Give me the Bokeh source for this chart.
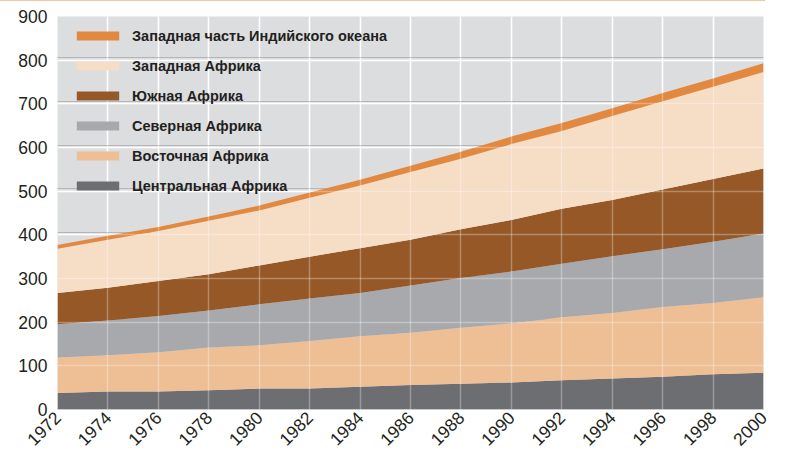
import math
from bokeh.plotting import figure
from bokeh.models import Legend, LegendItem, FixedTicker, Grid, ColumnDataSource
from bokeh.embed import file_html
from bokeh.resources import INLINE

years = [1972, 1974, 1976, 1978, 1980, 1982, 1984, 1986, 1988, 1990, 1992, 1994, 1996, 1998, 2000]
central = [38, 41, 41, 44, 48, 48, 52, 56, 59, 62, 67, 71, 75, 81, 84]
east = [81, 83, 90, 98, 99, 109, 116, 120, 128, 135, 144, 150, 160, 163, 173]
north = [76, 80, 83, 85, 94, 97, 99, 108, 114, 119, 123, 130, 132, 140, 146]
south = [72, 75, 80, 83, 89, 96, 102, 105, 112, 118, 126, 129, 137, 144, 149]
west = [101, 110, 115, 122, 126, 135, 144, 155, 161, 174, 178, 192, 202, 211, 221]
indian = [9, 9, 9, 10, 11, 12, 13, 14, 16, 17, 18, 18, 19, 19, 20]

series_keys = ["central", "east", "north", "south", "west", "indian"]
series_names = ["Центральная Африка", "Восточная Африка", "Северная Африка",
                "Южная Африка", "Западная Африка", "Западная часть Индийского океана"]
series_colors = ["#6D6E71", "#EEBE94", "#A7A9AC", "#955826", "#F6DDC6", "#E3883F"]

y_ticks = [0, 100, 200, 300, 400, 500, 600, 700, 800, 900]
x_ticks = years

src = ColumnDataSource(dict(year=years, central=central, east=east, north=north,
                            south=south, west=west, indian=indian))

p = figure(width=786, height=454, x_range=(1972, 2000), y_range=(0, 900),
           output_backend="svg", toolbar_location=None,
           min_border_left=57, min_border_right=23, min_border_top=16, min_border_bottom=45)
p.outline_line_color = None
p.background_fill_color = "#DCDDDF"
# transparent border so the page-top rule (host background) shows through
p.border_fill_alpha = 0
p.styles = {"background": "linear-gradient(#F3C9A0, #F3C9A0) no-repeat 0 0 / 765px 1px, #FFFFFF"}

renderers = p.varea_stack(series_keys, x="year", source=src, color=series_colors)

# grids
p.xgrid.ticker = FixedTicker(ticks=x_ticks)
p.ygrid.ticker = FixedTicker(ticks=y_ticks)
p.xgrid.grid_line_color = "white"
p.ygrid.grid_line_color = "white"
p.xgrid.grid_line_width = 1.5
p.ygrid.grid_line_width = 1.5

shadow = Grid(dimension=1, ticker=FixedTicker(ticks=[t + 5.5 for t in y_ticks[1:]]),
              grid_line_color="#B4B5B8", grid_line_width=1.2, level="underlay")
p.add_layout(shadow)
ov_x = Grid(dimension=0, ticker=FixedTicker(ticks=x_ticks), grid_line_color="white",
            grid_line_alpha=0.3, grid_line_width=1.5, level="overlay")
ov_y = Grid(dimension=1, ticker=FixedTicker(ticks=y_ticks), grid_line_color="white",
            grid_line_alpha=0.3, grid_line_width=1.5, level="overlay")
p.add_layout(ov_x)
p.add_layout(ov_y)

# axes
for ax in (p.xaxis[0], p.yaxis[0]):
    ax.axis_line_color = None
    ax.major_tick_line_color = None
    ax.minor_tick_line_color = None
    ax.major_tick_out = 0
    ax.major_tick_in = 0
    ax.minor_tick_out = 0
    ax.minor_tick_in = 0
    ax.major_label_text_font = "Liberation Sans"
    ax.major_label_text_font_size = "17.5px"
    ax.major_label_text_color = "#231F20"
p.xaxis.axis_line_color = "#C9CACC"
p.xaxis.ticker = FixedTicker(ticks=x_ticks)
p.yaxis.ticker = FixedTicker(ticks=y_ticks)
p.xaxis.major_label_orientation = math.pi / 4
p.xaxis.major_label_standoff = 5
p.yaxis.major_label_standoff = 10

# legend (top entry first)
items = [LegendItem(label=series_names[i], renderers=[renderers[i]]) for i in reversed(range(6))]
legend = Legend(items=items, location=(14, 215), margin=0, padding=0,
                glyph_width=53, glyph_height=11, label_height=17, label_standoff=8, spacing=13,
                label_text_font="Liberation Sans", label_text_font_style="bold",
                label_text_font_size="14.5px", label_text_color="#231F20",
                background_fill_alpha=0, border_line_color=None)
p.add_layout(legend, "center")

open("out.html", "w").write(file_html(p, INLINE))
